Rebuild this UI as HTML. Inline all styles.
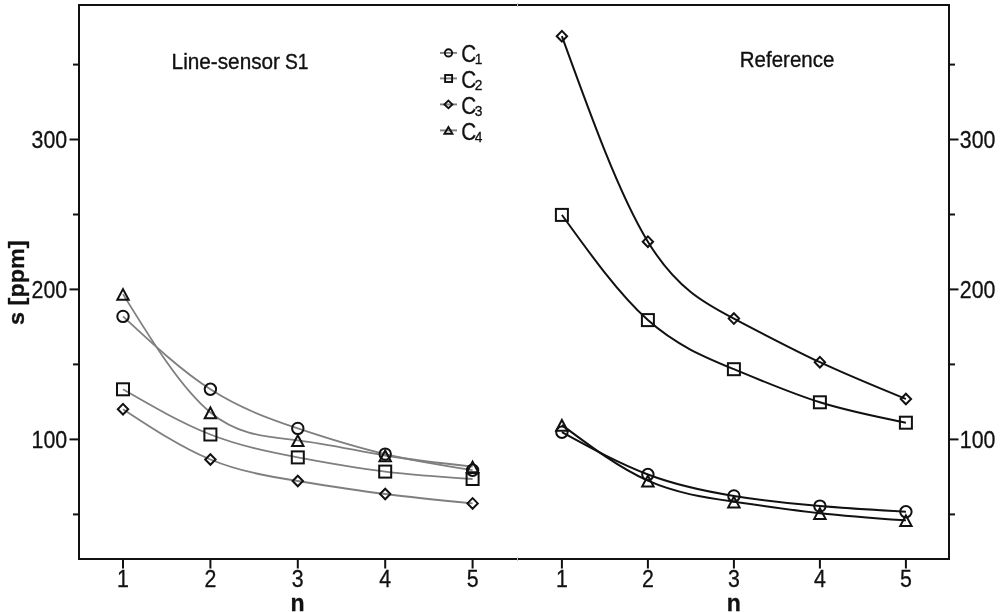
<!DOCTYPE html>
<html><head><meta charset="utf-8"><style>
html,body{margin:0;padding:0;background:#fff;}
body{width:1000px;height:612px;overflow:hidden;font-family:"Liberation Sans",sans-serif;}
svg{display:block;}
svg{will-change:transform;}
</style></head><body>
<svg width="1000" height="612" viewBox="0 0 1000 612">
<rect width="1000" height="612" fill="#fff"/>
<path d="M123.00 409.20 C152.13 428.36 181.27 447.51 210.40 459.50 C239.53 471.49 268.67 476.30 297.80 481.00 C326.93 485.70 356.07 490.29 385.20 494.00 C414.33 497.71 443.47 500.56 472.60 503.40" fill="none" stroke="#7f7f7f" stroke-width="1.8"/>
<path d="M123.00 389.30 C152.13 406.19 181.27 423.08 210.40 434.50 C239.53 445.92 268.67 451.86 297.80 457.40 C326.93 462.94 356.07 468.07 385.20 471.60 C414.33 475.13 443.47 477.07 472.60 479.00" fill="none" stroke="#7f7f7f" stroke-width="1.8"/>
<path d="M123.00 316.40 C152.13 343.46 181.27 370.51 210.40 389.30 C239.53 408.09 268.67 418.61 297.80 428.40 C326.93 438.19 356.07 447.25 385.20 454.10 C414.33 460.95 443.47 465.57 472.60 470.20" fill="none" stroke="#7f7f7f" stroke-width="1.8"/>
<path d="M123.00 294.10 C152.13 341.38 181.27 388.66 210.40 412.50 C239.53 436.34 268.67 436.74 297.80 440.30 C326.93 443.86 356.07 450.59 385.20 455.50 C414.33 460.41 443.47 463.51 472.60 466.60" fill="none" stroke="#7f7f7f" stroke-width="1.8"/>
<path d="M123.00 403.90 L128.20 409.20 L123.00 414.50 L117.80 409.20 Z" fill="none" stroke="#111" stroke-width="2.0"/>
<path d="M210.40 454.20 L215.60 459.50 L210.40 464.80 L205.20 459.50 Z" fill="none" stroke="#111" stroke-width="2.0"/>
<path d="M297.80 475.70 L303.00 481.00 L297.80 486.30 L292.60 481.00 Z" fill="none" stroke="#111" stroke-width="2.0"/>
<path d="M385.20 488.70 L390.40 494.00 L385.20 499.30 L380.00 494.00 Z" fill="none" stroke="#111" stroke-width="2.0"/>
<path d="M472.60 498.10 L477.80 503.40 L472.60 508.70 L467.40 503.40 Z" fill="none" stroke="#111" stroke-width="2.0"/>
<rect x="117.00" y="383.30" width="12" height="12" fill="none" stroke="#111" stroke-width="2.0"/>
<rect x="204.40" y="428.50" width="12" height="12" fill="none" stroke="#111" stroke-width="2.0"/>
<rect x="291.80" y="451.40" width="12" height="12" fill="none" stroke="#111" stroke-width="2.0"/>
<rect x="379.20" y="465.60" width="12" height="12" fill="none" stroke="#111" stroke-width="2.0"/>
<rect x="466.60" y="473.00" width="12" height="12" fill="none" stroke="#111" stroke-width="2.0"/>
<circle cx="123.00" cy="316.40" r="5.7" fill="none" stroke="#111" stroke-width="2.0"/>
<circle cx="210.40" cy="389.30" r="5.7" fill="none" stroke="#111" stroke-width="2.0"/>
<circle cx="297.80" cy="428.40" r="5.7" fill="none" stroke="#111" stroke-width="2.0"/>
<circle cx="385.20" cy="454.10" r="5.7" fill="none" stroke="#111" stroke-width="2.0"/>
<circle cx="472.60" cy="470.20" r="5.7" fill="none" stroke="#111" stroke-width="2.0"/>
<path d="M123.00 289.10 L128.70 299.80 L117.30 299.80 Z" fill="none" stroke="#111" stroke-width="2.0" stroke-linejoin="miter"/>
<path d="M210.40 407.50 L216.10 418.20 L204.70 418.20 Z" fill="none" stroke="#111" stroke-width="2.0" stroke-linejoin="miter"/>
<path d="M297.80 435.30 L303.50 446.00 L292.10 446.00 Z" fill="none" stroke="#111" stroke-width="2.0" stroke-linejoin="miter"/>
<path d="M385.20 450.50 L390.90 461.20 L379.50 461.20 Z" fill="none" stroke="#111" stroke-width="2.0" stroke-linejoin="miter"/>
<path d="M472.60 461.60 L478.30 472.30 L466.90 472.30 Z" fill="none" stroke="#111" stroke-width="2.0" stroke-linejoin="miter"/>
<path d="M561.90 36.20 C590.57 115.43 619.23 194.66 647.90 241.70 C676.57 288.74 705.23 303.59 733.90 318.60 C762.57 333.61 791.23 348.77 819.90 362.20 C848.57 375.63 877.23 387.31 905.90 399.00" fill="none" stroke="#111" stroke-width="2"/>
<path d="M561.90 214.90 C590.57 254.67 619.23 294.44 647.90 320.10 C676.57 345.76 705.23 357.31 733.90 369.20 C762.57 381.09 791.23 393.33 819.90 402.30 C848.57 411.27 877.23 416.99 905.90 422.70" fill="none" stroke="#111" stroke-width="2"/>
<path d="M561.90 432.20 C590.57 447.93 619.23 463.65 647.90 474.50 C676.57 485.35 705.23 491.31 733.90 495.90 C762.57 500.49 791.23 503.70 819.90 506.10 C848.57 508.50 877.23 510.10 905.90 511.70" fill="none" stroke="#111" stroke-width="2"/>
<path d="M561.90 425.00 C590.57 446.46 619.23 467.93 647.90 480.70 C676.57 493.47 705.23 497.55 733.90 501.70 C762.57 505.85 791.23 510.07 819.90 513.20 C848.57 516.33 877.23 518.36 905.90 520.40" fill="none" stroke="#111" stroke-width="2"/>
<path d="M561.90 30.90 L567.10 36.20 L561.90 41.50 L556.70 36.20 Z" fill="none" stroke="#111" stroke-width="2.0"/>
<path d="M647.90 236.40 L653.10 241.70 L647.90 247.00 L642.70 241.70 Z" fill="none" stroke="#111" stroke-width="2.0"/>
<path d="M733.90 313.30 L739.10 318.60 L733.90 323.90 L728.70 318.60 Z" fill="none" stroke="#111" stroke-width="2.0"/>
<path d="M819.90 356.90 L825.10 362.20 L819.90 367.50 L814.70 362.20 Z" fill="none" stroke="#111" stroke-width="2.0"/>
<path d="M905.90 393.70 L911.10 399.00 L905.90 404.30 L900.70 399.00 Z" fill="none" stroke="#111" stroke-width="2.0"/>
<rect x="555.90" y="208.90" width="12" height="12" fill="none" stroke="#111" stroke-width="2.0"/>
<rect x="641.90" y="314.10" width="12" height="12" fill="none" stroke="#111" stroke-width="2.0"/>
<rect x="727.90" y="363.20" width="12" height="12" fill="none" stroke="#111" stroke-width="2.0"/>
<rect x="813.90" y="396.30" width="12" height="12" fill="none" stroke="#111" stroke-width="2.0"/>
<rect x="899.90" y="416.70" width="12" height="12" fill="none" stroke="#111" stroke-width="2.0"/>
<circle cx="561.90" cy="432.20" r="5.7" fill="none" stroke="#111" stroke-width="2.0"/>
<circle cx="647.90" cy="474.50" r="5.7" fill="none" stroke="#111" stroke-width="2.0"/>
<circle cx="733.90" cy="495.90" r="5.7" fill="none" stroke="#111" stroke-width="2.0"/>
<circle cx="819.90" cy="506.10" r="5.7" fill="none" stroke="#111" stroke-width="2.0"/>
<circle cx="905.90" cy="511.70" r="5.7" fill="none" stroke="#111" stroke-width="2.0"/>
<path d="M561.90 420.00 L567.60 430.70 L556.20 430.70 Z" fill="none" stroke="#111" stroke-width="2.0" stroke-linejoin="miter"/>
<path d="M647.90 475.70 L653.60 486.40 L642.20 486.40 Z" fill="none" stroke="#111" stroke-width="2.0" stroke-linejoin="miter"/>
<path d="M733.90 496.70 L739.60 507.40 L728.20 507.40 Z" fill="none" stroke="#111" stroke-width="2.0" stroke-linejoin="miter"/>
<path d="M819.90 508.20 L825.60 518.90 L814.20 518.90 Z" fill="none" stroke="#111" stroke-width="2.0" stroke-linejoin="miter"/>
<path d="M905.90 515.40 L911.60 526.10 L900.20 526.10 Z" fill="none" stroke="#111" stroke-width="2.0" stroke-linejoin="miter"/>
<rect x="79" y="5" width="870" height="554" fill="none" stroke="#111" stroke-width="2"/>
<rect x="517" y="3" width="1" height="4" fill="#c8c8c8"/>
<rect x="517" y="557" width="1" height="4" fill="#c8c8c8"/>
<line x1="123.0" y1="560" x2="123.0" y2="568.5" stroke="#111" stroke-width="2"/>
<line x1="210.4" y1="560" x2="210.4" y2="568.5" stroke="#111" stroke-width="2"/>
<line x1="297.8" y1="560" x2="297.8" y2="568.5" stroke="#111" stroke-width="2"/>
<line x1="385.2" y1="560" x2="385.2" y2="568.5" stroke="#111" stroke-width="2"/>
<line x1="472.6" y1="560" x2="472.6" y2="568.5" stroke="#111" stroke-width="2"/>
<line x1="561.9" y1="560" x2="561.9" y2="568.5" stroke="#111" stroke-width="2"/>
<line x1="647.9" y1="560" x2="647.9" y2="568.5" stroke="#111" stroke-width="2"/>
<line x1="733.9" y1="560" x2="733.9" y2="568.5" stroke="#111" stroke-width="2"/>
<line x1="819.9" y1="560" x2="819.9" y2="568.5" stroke="#111" stroke-width="2"/>
<line x1="905.9" y1="560" x2="905.9" y2="568.5" stroke="#111" stroke-width="2"/>
<line x1="69.5" y1="139.5" x2="79" y2="139.5" stroke="#111" stroke-width="2"/>
<line x1="949" y1="139.5" x2="958.5" y2="139.5" stroke="#111" stroke-width="2"/>
<line x1="69.5" y1="289.4" x2="79" y2="289.4" stroke="#111" stroke-width="2"/>
<line x1="949" y1="289.4" x2="958.5" y2="289.4" stroke="#111" stroke-width="2"/>
<line x1="69.5" y1="439.4" x2="79" y2="439.4" stroke="#111" stroke-width="2"/>
<line x1="949" y1="439.4" x2="958.5" y2="439.4" stroke="#111" stroke-width="2"/>
<line x1="73" y1="64.6" x2="79" y2="64.6" stroke="#111" stroke-width="2"/>
<line x1="949" y1="64.6" x2="955" y2="64.6" stroke="#111" stroke-width="2"/>
<line x1="73" y1="214.5" x2="79" y2="214.5" stroke="#111" stroke-width="2"/>
<line x1="949" y1="214.5" x2="955" y2="214.5" stroke="#111" stroke-width="2"/>
<line x1="73" y1="364.4" x2="79" y2="364.4" stroke="#111" stroke-width="2"/>
<line x1="949" y1="364.4" x2="955" y2="364.4" stroke="#111" stroke-width="2"/>
<line x1="73" y1="514.4" x2="79" y2="514.4" stroke="#111" stroke-width="2"/>
<line x1="949" y1="514.4" x2="955" y2="514.4" stroke="#111" stroke-width="2"/>
<text transform="translate(67.20 147.80) scale(0.890 1)" font-family="Liberation Sans, sans-serif" font-size="24.00" font-weight="normal" text-anchor="end" fill="#111" stroke="#111" stroke-width="0.30">300</text>
<text transform="translate(959.80 147.80) scale(0.890 1)" font-family="Liberation Sans, sans-serif" font-size="24.00" font-weight="normal" text-anchor="start" fill="#111" stroke="#111" stroke-width="0.30">300</text>
<text transform="translate(67.20 297.70) scale(0.890 1)" font-family="Liberation Sans, sans-serif" font-size="24.00" font-weight="normal" text-anchor="end" fill="#111" stroke="#111" stroke-width="0.30">200</text>
<text transform="translate(959.80 297.70) scale(0.890 1)" font-family="Liberation Sans, sans-serif" font-size="24.00" font-weight="normal" text-anchor="start" fill="#111" stroke="#111" stroke-width="0.30">200</text>
<text transform="translate(67.20 447.70) scale(0.890 1)" font-family="Liberation Sans, sans-serif" font-size="24.00" font-weight="normal" text-anchor="end" fill="#111" stroke="#111" stroke-width="0.30">100</text>
<text transform="translate(959.80 447.70) scale(0.890 1)" font-family="Liberation Sans, sans-serif" font-size="24.00" font-weight="normal" text-anchor="start" fill="#111" stroke="#111" stroke-width="0.30">100</text>
<text transform="translate(123.00 586.80) scale(0.890 1)" font-family="Liberation Sans, sans-serif" font-size="24.00" font-weight="normal" text-anchor="middle" fill="#111" stroke="#111" stroke-width="0.30">1</text>
<text transform="translate(210.40 586.80) scale(0.890 1)" font-family="Liberation Sans, sans-serif" font-size="24.00" font-weight="normal" text-anchor="middle" fill="#111" stroke="#111" stroke-width="0.30">2</text>
<text transform="translate(297.80 586.80) scale(0.890 1)" font-family="Liberation Sans, sans-serif" font-size="24.00" font-weight="normal" text-anchor="middle" fill="#111" stroke="#111" stroke-width="0.30">3</text>
<text transform="translate(385.20 586.80) scale(0.890 1)" font-family="Liberation Sans, sans-serif" font-size="24.00" font-weight="normal" text-anchor="middle" fill="#111" stroke="#111" stroke-width="0.30">4</text>
<text transform="translate(472.60 586.80) scale(0.890 1)" font-family="Liberation Sans, sans-serif" font-size="24.00" font-weight="normal" text-anchor="middle" fill="#111" stroke="#111" stroke-width="0.30">5</text>
<text transform="translate(561.90 586.80) scale(0.890 1)" font-family="Liberation Sans, sans-serif" font-size="24.00" font-weight="normal" text-anchor="middle" fill="#111" stroke="#111" stroke-width="0.30">1</text>
<text transform="translate(647.90 586.80) scale(0.890 1)" font-family="Liberation Sans, sans-serif" font-size="24.00" font-weight="normal" text-anchor="middle" fill="#111" stroke="#111" stroke-width="0.30">2</text>
<text transform="translate(733.90 586.80) scale(0.890 1)" font-family="Liberation Sans, sans-serif" font-size="24.00" font-weight="normal" text-anchor="middle" fill="#111" stroke="#111" stroke-width="0.30">3</text>
<text transform="translate(819.90 586.80) scale(0.890 1)" font-family="Liberation Sans, sans-serif" font-size="24.00" font-weight="normal" text-anchor="middle" fill="#111" stroke="#111" stroke-width="0.30">4</text>
<text transform="translate(905.90 586.80) scale(0.890 1)" font-family="Liberation Sans, sans-serif" font-size="24.00" font-weight="normal" text-anchor="middle" fill="#111" stroke="#111" stroke-width="0.30">5</text>
<text transform="translate(297.50 610.50) scale(1.000 1)" font-family="Liberation Sans, sans-serif" font-size="23.00" font-weight="bold" text-anchor="middle" fill="#111" stroke="#111" stroke-width="0.30">n</text>
<text transform="translate(733.70 610.50) scale(1.000 1)" font-family="Liberation Sans, sans-serif" font-size="23.00" font-weight="bold" text-anchor="middle" fill="#111" stroke="#111" stroke-width="0.30">n</text>
<text transform="translate(23.6 324.9) rotate(-90)" font-family="Liberation Sans, sans-serif" font-size="22" font-weight="bold" fill="#111" stroke="#111" stroke-width="0.3" textLength="84.5" lengthAdjust="spacingAndGlyphs">s [ppm]</text>
<text x="171.6" y="69" font-family="Liberation Sans, sans-serif" font-size="21.5" fill="#111" stroke="#111" stroke-width="0.35" textLength="108.4" lengthAdjust="spacingAndGlyphs">Line-sensor</text>
<text x="284.9" y="69" font-family="Liberation Sans, sans-serif" font-size="21.5" fill="#111" stroke="#111" stroke-width="0.35" textLength="23.6" lengthAdjust="spacingAndGlyphs">S1</text>
<text x="739.8" y="66.9" font-family="Liberation Sans, sans-serif" font-size="21.5" fill="#111" stroke="#111" stroke-width="0.35" textLength="94.5" lengthAdjust="spacingAndGlyphs">Reference</text>
<line x1="440" y1="52.9" x2="457" y2="52.9" stroke="#7f7f7f" stroke-width="1.9"/>
<circle cx="448.5" cy="52.9" r="3.65" fill="none" stroke="#111" stroke-width="1.9"/>
<text transform="translate(461.20 61.50) scale(0.880 1)" font-family="Liberation Sans, sans-serif" font-size="23.50" font-weight="normal" text-anchor="start" fill="#111" stroke="#111" stroke-width="0.30">C</text>
<text transform="translate(474.80 64.00) scale(0.950 1)" font-family="Liberation Sans, sans-serif" font-size="14.50" font-weight="normal" text-anchor="start" fill="#111" stroke="#111" stroke-width="0.30">1</text>
<line x1="440" y1="78.4" x2="457" y2="78.4" stroke="#7f7f7f" stroke-width="1.9"/>
<rect x="445.1" y="75.0" width="7" height="7" fill="none" stroke="#111" stroke-width="1.9"/>
<text transform="translate(461.20 87.50) scale(0.880 1)" font-family="Liberation Sans, sans-serif" font-size="23.50" font-weight="normal" text-anchor="start" fill="#111" stroke="#111" stroke-width="0.30">C</text>
<text transform="translate(474.80 90.00) scale(0.950 1)" font-family="Liberation Sans, sans-serif" font-size="14.50" font-weight="normal" text-anchor="start" fill="#111" stroke="#111" stroke-width="0.30">2</text>
<line x1="440" y1="104.4" x2="457" y2="104.4" stroke="#7f7f7f" stroke-width="1.9"/>
<path d="M448.4 100.6 L452.4 104.4 L448.4 108.2 L444.4 104.4 Z" fill="none" stroke="#111" stroke-width="1.9"/>
<text transform="translate(461.20 113.50) scale(0.880 1)" font-family="Liberation Sans, sans-serif" font-size="23.50" font-weight="normal" text-anchor="start" fill="#111" stroke="#111" stroke-width="0.30">C</text>
<text transform="translate(474.80 116.00) scale(0.950 1)" font-family="Liberation Sans, sans-serif" font-size="14.50" font-weight="normal" text-anchor="start" fill="#111" stroke="#111" stroke-width="0.30">3</text>
<line x1="440" y1="130.4" x2="457" y2="130.4" stroke="#7f7f7f" stroke-width="1.9"/>
<path d="M448.4 127.0 L452.4 133.8 L444.4 133.8 Z" fill="none" stroke="#111" stroke-width="1.9"/>
<text transform="translate(461.20 139.50) scale(0.880 1)" font-family="Liberation Sans, sans-serif" font-size="23.50" font-weight="normal" text-anchor="start" fill="#111" stroke="#111" stroke-width="0.30">C</text>
<text transform="translate(474.80 142.00) scale(0.950 1)" font-family="Liberation Sans, sans-serif" font-size="14.50" font-weight="normal" text-anchor="start" fill="#111" stroke="#111" stroke-width="0.30">4</text>
</svg>
</body></html>
